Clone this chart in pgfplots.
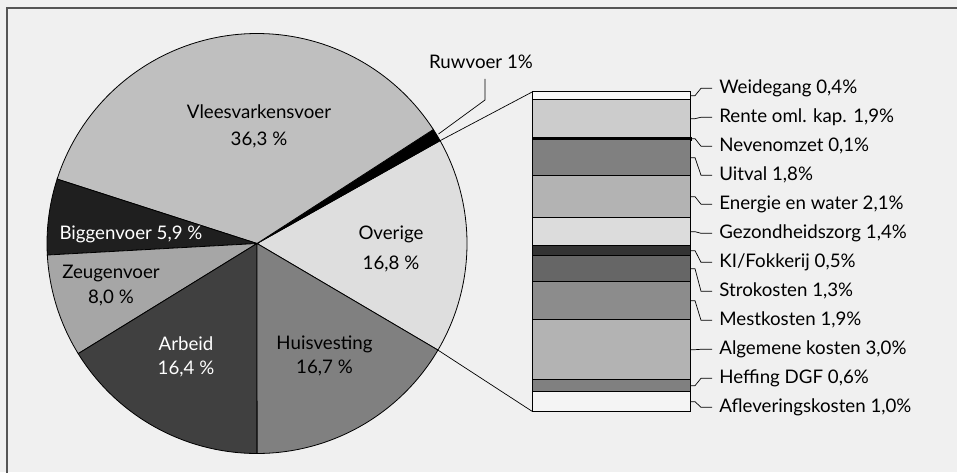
\documentclass[border=0pt]{standalone}
\usepackage{pgfplots}
\pgfplotsset{compat=1.18}
\usepackage{fontspec}
\setmainfont{Lato}
\definecolor{bg}{HTML}{F0F0F0}
\definecolor{frame}{HTML}{555555}
\definecolor{cVlees}{HTML}{BFBFBF}
\definecolor{cRuw}{HTML}{000000}
\definecolor{cOv}{HTML}{DEDEDE}
\definecolor{cHuis}{HTML}{808080}
\definecolor{cArb}{HTML}{404040}
\definecolor{cZeug}{HTML}{A6A6A6}
\definecolor{cBig}{HTML}{1F1F1F}
\definecolor{bWeide}{HTML}{F8F8F8}
\definecolor{bRente}{HTML}{CCCCCC}
\definecolor{bNeven}{HTML}{000000}
\definecolor{bUit}{HTML}{808080}
\definecolor{bEn}{HTML}{B3B3B3}
\definecolor{bGez}{HTML}{DCDCDC}
\definecolor{bKI}{HTML}{333333}
\definecolor{bStro}{HTML}{666666}
\definecolor{bMest}{HTML}{8C8C8C}
\definecolor{bAlg}{HTML}{B3B3B3}
\definecolor{bHef}{HTML}{808080}
\definecolor{bAfl}{HTML}{F4F4F4}
\newcommand{\leader}[3]{\draw[black, line width=0.7pt] (axis cs:690.7,#1) -- (axis cs:695,#1) -- (axis cs:701,#2) -- (axis cs:712,#2) node[right, inner sep=0pt, xshift=7pt] {#3};}
\pgfplotsset{canvas/.style={at={(0pt,0pt)}, anchor=south west, scale only axis,
  width=957pt, height=472pt, xmin=0, xmax=957, hide axis, clip=false}}
\pgfmathsetmacro\unitang{360/101.1}
\pgfmathsetmacro\aA{329.5}
\pgfmathsetmacro\aB{\aA+16.8*\unitang}
\pgfmathsetmacro\aC{\aB+1.0*\unitang}
\pgfmathsetmacro\aD{\aC+36.3*\unitang}
\pgfmathsetmacro\aE{\aD+5.9*\unitang}
\pgfmathsetmacro\aF{\aE+8.0*\unitang}
\pgfmathsetmacro\aG{\aF+16.4*\unitang}
\pgfmathsetmacro\aH{\aG+16.7*\unitang}
\pgfmathsetmacro\aRm{(\aB+\aC)/2}
\begin{document}%
\begin{tikzpicture}[font=\fontsize{18.7}{23}\selectfont]
\fill[bg] (0,0) rectangle (957pt,472pt);
\draw[line width=2pt, color=frame] (7pt,-5pt) -- (7pt,464pt) -- (965pt,464pt);
\begin{axis}[canvas, ymin=0, ymax=472]
\pgfplotsset{slice/.style={draw=black, line width=0.8pt, samples=80, variable=\t}}
\addplot[slice, fill=cOv, domain=\aA:\aB] ({257+210*cos(\t)}, {228.5+210*sin(\t)}) -- (axis cs:257,228.5) -- cycle;
\addplot[slice, fill=cRuw, domain=\aB:\aC] ({257+210*cos(\t)}, {228.5+210*sin(\t)}) -- (axis cs:257,228.5) -- cycle;
\addplot[slice, fill=cVlees, domain=\aC:\aD] ({257+210*cos(\t)}, {228.5+210*sin(\t)}) -- (axis cs:257,228.5) -- cycle;
\addplot[slice, fill=cBig, domain=\aD:\aE] ({257+210*cos(\t)}, {228.5+210*sin(\t)}) -- (axis cs:257,228.5) -- cycle;
\addplot[slice, fill=cZeug, domain=\aE:\aF] ({257+210*cos(\t)}, {228.5+210*sin(\t)}) -- (axis cs:257,228.5) -- cycle;
\addplot[slice, fill=cArb, domain=\aF:\aG] ({257+210*cos(\t)}, {228.5+210*sin(\t)}) -- (axis cs:257,228.5) -- cycle;
\addplot[slice, fill=cHuis, domain=\aG:\aH] ({257+210*cos(\t)}, {228.5+210*sin(\t)}) -- (axis cs:257,228.5) -- cycle;
\draw[black, line width=0.7pt] (axis cs:{257+210*cos(\aB)},{228.5+210*sin(\aB)}) -- (axis cs:532.7,380.3);
\draw[black, line width=0.7pt] (axis cs:{257+210*cos(\aA)},{228.5+210*sin(\aA)}) -- (axis cs:532.7,60.3);
\draw[black, line width=0.7pt] (axis cs:{257+212*cos(\aRm)},{228.5+212*sin(\aRm)}) -- (axis cs:485,372) -- (axis cs:485,393);
\node[anchor=base] at (axis cs:481,403.5) {Ruwvoer 1\%};
\node[align=center, font=\fontsize{18.7}{27}\selectfont] at (axis cs:259,346) {Vleesvarkensvoer\\36,3 \%};
\node[text=white] at (axis cs:131,238) {Biggenvoer 5,9 \%};
\node[align=center, font=\fontsize{18.7}{25}\selectfont] at (axis cs:111,186) {Zeugenvoer\\8,0 \%};
\node[align=center, text=white, font=\fontsize{18.7}{24}\selectfont] at (axis cs:186,115.5) {Arbeid\\16,4 \%};
\node[align=center, font=\fontsize{18.7}{24}\selectfont] at (axis cs:324.5,116.5) {Huisvesting\\16,7 \%};
\node[align=center, font=\fontsize{18.7}{30}\selectfont] at (axis cs:391,223) {Overige\\16,8 \%};
\end{axis}
\begin{axis}[canvas, ymin=-3.015, ymax=20.585, ybar stacked, bar width=158pt]
\pgfplotsset{every axis plot/.append style={draw=black, line width=0.8pt}}
\addplot[fill=bAfl]   coordinates {(611.7,1.0)};
\addplot[fill=bHef]   coordinates {(611.7,0.6)};
\addplot[fill=bAlg]   coordinates {(611.7,3.0)};
\addplot[fill=bMest]  coordinates {(611.7,1.9)};
\addplot[fill=bStro]  coordinates {(611.7,1.3)};
\addplot[fill=bKI]    coordinates {(611.7,0.5)};
\addplot[fill=bGez]   coordinates {(611.7,1.4)};
\addplot[fill=bEn]    coordinates {(611.7,2.1)};
\addplot[fill=bUit]   coordinates {(611.7,1.8)};
\addplot[fill=bNeven, line width=2.2pt] coordinates {(611.7,0.1)};
\addplot[fill=bRente] coordinates {(611.7,1.9)};
\addplot[fill=bWeide, line width=1pt] coordinates {(611.7,0.4)};
\leader{0.5}{0.22}{Afleveringskosten 1,0\%}
\leader{1.3}{1.67}{Heffing DGF 0,6\%}
\leader{3.1}{3.12}{Algemene kosten 3,0\%}
\leader{5.55}{4.57}{Mestkosten 1,9\%}
\leader{7.15}{6.02}{Strokosten 1,3\%}
\leader{8.05}{7.47}{KI/Fokkerij 0,5\%}
\leader{9.0}{8.92}{Gezondheidszorg 1,4\%}
\leader{10.75}{10.37}{Energie en water 2,1\%}
\leader{12.7}{11.82}{Uitval 1,8\%}
\leader{13.65}{13.27}{Nevenomzet 0,1\%}
\leader{14.65}{14.72}{Rente oml. kap. 1,9\%}
\leader{15.8}{16.17}{Weidegang 0,4\%}
\end{axis}
\pgfresetboundingbox
\useasboundingbox (0,0) rectangle (957pt,472pt);
\end{tikzpicture}%
\end{document}
